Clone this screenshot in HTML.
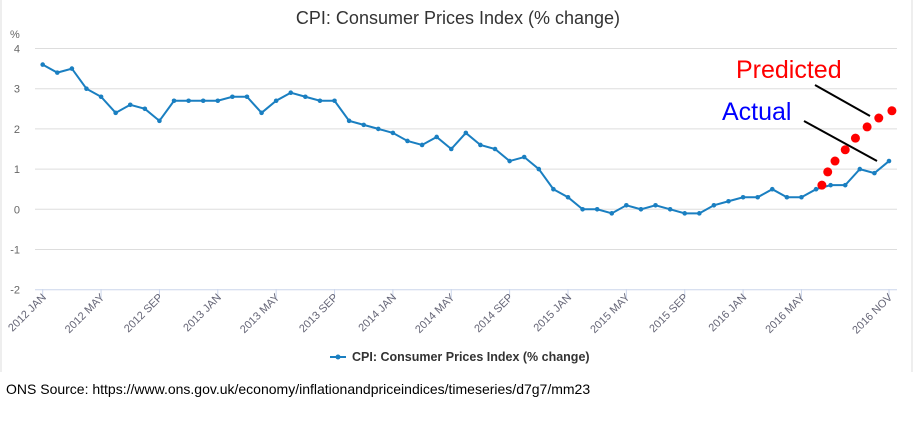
<!DOCTYPE html>
<html><head><meta charset="utf-8"><style>
body{margin:0;background:#fff;font-family:"Liberation Sans",sans-serif}
svg text{font-family:"Liberation Sans",sans-serif}
</style></head><body>
<svg id="c" width="914" height="430">
<rect x="0" y="0" width="914" height="372" fill="#fff"/>
<line x1="1" y1="0" x2="1" y2="372" stroke="#ddd"/>
<line x1="912" y1="0" x2="912" y2="372" stroke="#ddd"/>
<text x="458" y="24" text-anchor="middle" font-size="18" fill="#333">CPI: Consumer Prices Index (% change)</text>
<text x="10" y="38" font-size="11" fill="#666">%</text>
<g id="grid"></g><g id="xaxis"></g><g id="series"></g><g id="pred"></g>
<line x1="815" y1="85" x2="870" y2="116" stroke="#000" stroke-width="2"/>
<line x1="804" y1="121" x2="877" y2="161" stroke="#000" stroke-width="2"/>
<text x="736" y="78" font-size="25" fill="#ff0000">Predicted</text>
<text x="722" y="120" font-size="25" fill="#0000ff">Actual</text>
<g>
<line x1="330" y1="357" x2="346" y2="357" stroke="#1a7fc1" stroke-width="2"/>
<circle cx="338" cy="357" r="2.5" fill="#1a7fc1"/>
<text x="352" y="361" font-size="12.5" font-weight="bold" fill="#333">CPI: Consumer Prices Index (% change)</text>
</g>
<text x="6" y="394" font-size="14" fill="#000">ONS Source: https://www.ons.gov.uk/economy/inflationandpriceindices/timeseries/d7g7/mm23</text>
</svg>
<script>
const values=[3.6,3.4,3.5,3.0,2.8,2.4,2.6,2.5,2.2,2.7,2.7,2.7,
2.7,2.8,2.8,2.4,2.7,2.9,2.8,2.7,2.7,2.2,2.1,2.0,
1.9,1.7,1.6,1.8,1.5,1.9,1.6,1.5,1.2,1.3,1.0,0.5,
0.3,0.0,0.0,-0.1,0.1,0.0,0.1,0.0,-0.1,-0.1,0.1,0.2,
0.3,0.3,0.5,0.3,0.3,0.5,0.6,0.6,1.0,0.9,1.2];
const tickLabels=["2012 JAN","2012 MAY","2012 SEP","2013 JAN","2013 MAY","2013 SEP","2014 JAN","2014 MAY","2014 SEP","2015 JAN","2015 MAY","2015 SEP","2016 JAN","2016 MAY","2016 NOV"];
const tickIndex=[0,4,8,12,16,20,24,28,32,36,40,44,48,52,58];
const yTicks=[4,3,2,1,0,-1,-2];
const predIndex=[53.4,53.8,54.3,55.0,55.7,56.5,57.3,58.2];
const predValues=[0.60,0.93,1.20,1.48,1.77,2.05,2.27,2.45];
const NS="http://www.w3.org/2000/svg";
const x=i=>42.7+i*(889-42.7)/58;
const y=v=>209.3-v*40.2;
function mk(t,a,p){const e=document.createElementNS(NS,t);for(const k in a)e.setAttribute(k,a[k]);p.appendChild(e);return e;}
const grid=document.getElementById('grid');
yTicks.forEach(v=>{
 const l=mk('line',{x1:35,x2:897,y1:y(v),y2:y(v),stroke:v==-2?'#ccd6eb':'#ddd'},grid);
 
 
 const t=mk('text',{x:20,y:y(v)+4,'text-anchor':'end','font-size':11,fill:'#666'},grid);t.textContent=v;
 
 
});
const xa=document.getElementById('xaxis');
tickIndex.forEach((i,k)=>{
 mk('line',{x1:x(i),x2:x(i),y1:289,y2:299,stroke:'#ccd6eb'},xa);
 const t=mk('text',{x:x(i)+4,y:298,'text-anchor':'end','font-size':11,fill:'#667',transform:`rotate(-45 ${x(i)+4} 298)`},xa);
 t.textContent=tickLabels[k];
 
 
});
const s=document.getElementById('series');
const pl=mk('polyline',{points:values.map((v,i)=>x(i)+','+y(v)).join(' '),fill:'none',stroke:'#1a7fc1','stroke-width':2},s);


values.forEach((v,i)=>{
 const c=mk('circle',{cx:x(i),cy:y(v),r:2.3,fill:'#1a7fc1'},s);
 
 
});
const p=document.getElementById('pred');
predIndex.forEach((i,k)=>{
 const c=mk('circle',{cx:x(i),cy:y(predValues[k]),r:4.5,fill:'#ff0000'},p);
 
 
});
</script>
</body></html>
